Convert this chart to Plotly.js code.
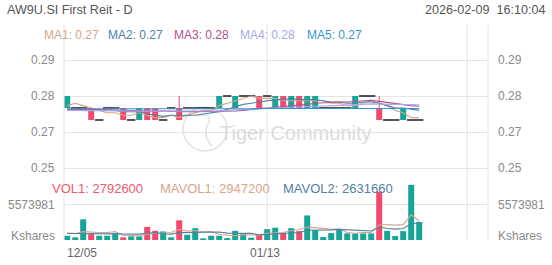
<!DOCTYPE html>
<html>
<head>
<meta charset="utf-8">
<script src="https://cdn.plot.ly/plotly-3.0.1.min.js"></script>
<style>
  html, body { margin: 0; padding: 0; background: #fff; }
  #chart { width: 552px; height: 265px; }
</style>
</head>
<body>
<div id="chart"></div>
<script>
// Daily bars for AW9U.SI, 2025-12-05 .. 2026-02-09
const dates = ['12/05','12/08','12/09','12/10','12/11','12/12','12/15','12/16','12/17','12/18',
  '12/19','12/22','12/23','12/24','12/26','12/29','12/30','12/31','01/02','01/05',
  '01/06','01/07','01/08','01/09','01/12','01/13','01/14','01/15','01/16','01/19',
  '01/20','01/21','01/22','01/23','01/26','01/27','01/28','01/29','01/30','02/02',
  '02/03','02/04','02/05','02/06','02/09'];

const open = [0.275,0.275,0.275,0.275,0.27,0.275,0.275,0.275,0.27,0.27,
  0.275,0.275,0.27,0.275,0.275,0.275,0.275,0.275,0.275,0.275,
  0.28,0.275,0.28,0.28,0.28,0.28,0.275,0.28,0.275,0.28,
  0.275,0.275,0.275,0.275,0.275,0.275,0.275,0.28,0.28,0.275,
  0.27,0.27,0.27,0.27,0.27];
const high = [0.28,0.275,0.275,0.275,0.27,0.275,0.275,0.275,0.27,0.275,
  0.275,0.275,0.27,0.275,0.28,0.275,0.275,0.275,0.275,0.28,
  0.28,0.28,0.28,0.28,0.28,0.28,0.28,0.28,0.28,0.28,
  0.28,0.28,0.275,0.275,0.275,0.275,0.28,0.28,0.28,0.28,
  0.27,0.27,0.275,0.27,0.27];
const low = [0.275,0.275,0.275,0.27,0.27,0.275,0.275,0.27,0.27,0.27,
  0.27,0.27,0.27,0.275,0.27,0.275,0.275,0.275,0.275,0.275,
  0.28,0.275,0.28,0.28,0.275,0.28,0.275,0.275,0.275,0.275,
  0.275,0.275,0.275,0.275,0.275,0.275,0.275,0.28,0.28,0.27,
  0.27,0.27,0.27,0.27,0.27];
const close = [0.28,0.275,0.275,0.27,0.27,0.275,0.275,0.27,0.27,0.275,
  0.27,0.27,0.27,0.275,0.27,0.275,0.275,0.275,0.275,0.28,
  0.28,0.28,0.28,0.28,0.275,0.28,0.28,0.275,0.28,0.275,
  0.28,0.28,0.275,0.275,0.275,0.275,0.28,0.28,0.28,0.27,
  0.27,0.27,0.275,0.27,0.27];

const volume = [660000,410000,3200000,920000,660000,660000,1020000,410000,560000,560000,
  2030000,1420000,1320000,410000,3050000,810000,1830000,250000,660000,660000,
  300000,1420000,920000,360000,810000,1680000,1900000,1100000,1830000,1370000,
  3800000,1530000,460000,1070000,1680000,1030000,1010000,1020000,1020000,7500600,
  1416000,612000,1370000,8545400,2792600];

// price moving averages
const ma1 = [0.2760,0.2770,0.2760,0.2750,0.2740,0.2730,0.2730,0.2720,0.2720,0.2730,
  0.2720,0.2710,0.2710,0.2720,0.2710,0.2720,0.2730,0.2740,0.2740,0.2760,
  0.2770,0.2780,0.2790,0.2800,0.2790,0.2790,0.2790,0.2780,0.2780,0.2780,
  0.2780,0.2780,0.2780,0.2770,0.2770,0.2760,0.2760,0.2770,0.2780,0.2770,
  0.2760,0.2740,0.2730,0.2710,0.2710];
const ma2 = [0.2745,0.2745,0.2745,0.2740,0.2740,0.2740,0.2740,0.2735,0.2735,0.2735,
  0.2725,0.2720,0.2715,0.2720,0.2720,0.2720,0.2720,0.2725,0.2730,0.2735,
  0.2745,0.2755,0.2765,0.2770,0.2775,0.2780,0.2785,0.2785,0.2790,0.2785,
  0.2785,0.2785,0.2780,0.2775,0.2775,0.2770,0.2770,0.2775,0.2775,0.2770,
  0.2760,0.2750,0.2750,0.2745,0.2740];
const ma3 = [0.2745,0.2745,0.2744,0.2743,0.2742,0.2742,0.2741,0.2740,0.2740,0.2739,
  0.2738,0.2737,0.2736,0.2736,0.2735,0.2735,0.2735,0.2735,0.2735,0.2735,
  0.2735,0.27375,0.2740,0.2745,0.27475,0.2750,0.27525,0.2755,0.2760,0.2760,
  0.2765,0.2770,0.27725,0.27725,0.2775,0.2775,0.27775,0.2780,0.27825,0.27775,
  0.27725,0.27675,0.2765,0.2760,0.27575];
const ma4 = [0.2740,0.2740,0.2741,0.2740,0.2739,0.2739,0.2739,0.2738,0.2737,0.2737,
  0.2736,0.2736,0.2735,0.2735,0.2735,0.2735,0.2736,0.2737,0.2737,0.2738,
  0.2740,0.2742,0.2744,0.2746,0.2747,0.2749,0.2750,0.2751,0.2753,0.2754,
  0.2756,0.2758,0.2759,0.2760,0.2761,0.2762,0.2764,0.2765,0.2767,0.2766,
  0.2765,0.2765,0.2764,0.2763,0.2763];
const ma5 = [0.2747,0.2747,0.2747,0.2746,0.2746,0.2746,0.2746,0.2745,0.2745,0.2745,
  0.2745,0.2744,0.2744,0.2744,0.2744,0.2744,0.2744,0.2745,0.2745,0.2745,
  0.2746,0.2746,0.2747,0.2747,0.2748,0.2748,0.2748,0.2749,0.2749,0.2749,
  0.2750,0.2750,0.2750,0.2750,0.2750,0.2750,0.2750,0.2750,0.2750,0.2749,
  0.2749,0.2749,0.2748,0.2748,0.2748];

// volume moving averages
const mavol1 = [1100000,1000000,1300000,1200000,1170000,1170000,1290000,730000,660000,640000,
  920000,1000000,1180000,1150000,1650000,1400000,1480000,1270000,1320000,840000,
  740000,660000,790000,730000,760000,1040000,1130000,1170000,1460000,1580000,
  2000000,1930000,1800000,1650000,1710000,1150000,1050000,1160000,1150000,2320000,
  2390000,2310000,2380000,3890000,2947200];
const mavol2 = [1000000,1000000,1050000,1000000,980000,960000,950000,930000,920000,906000,
  1040000,1140000,960000,910000,1140000,1160000,1240000,1220000,1230000,1240000,
  1070000,1070000,1030000,1030000,800000,890000,900000,980000,1100000,1170000,
  1520000,1530000,1480000,1560000,1640000,1580000,1490000,1480000,1400000,2010000,
  1770000,1680000,1770000,2520000,2631660];

// axis ticks
const priceTicks = [0.295, 0.28, 0.265, 0.25];
const priceTickText = ['0.29', '0.28', '0.27', '0.25'];
const volTick = 5573981;
const volTickText = '5573981';
const volUnit = 'Kshares';
const dateTickIdx = [0, 25];

// ---- styling ----
const UP = '#17a597', DOWN = '#f2496c', FLAT = '#1e1e1e';
const MA_COLORS = ['#d6a689', '#4f80a5', '#b4508c', '#aaaae6', '#3a93cf'];
const GRID = '#e4e4e4', LABEL = '#8a8a8a';
const FONT = '"Liberation Sans", Arial, sans-serif';

// page geometry
const W = 552, H = 265;
const M = { l: 64, r: 64, t: 25, b: 25 };
const PW = W - M.l - M.r, PH = H - M.t - M.b;
const px = v => (v - M.l) / PW;
const py = v => (M.t + PH - v) / PH;
const volFrac = 62 / PH;

const idx = dates.map((_, i) => i);

// candle bodies
const upI = idx.filter(i => close[i] > open[i]);
const dnI = idx.filter(i => close[i] < open[i]);
const flatI = idx.filter(i => close[i] === open[i] && high[i] === low[i]);

const bodyUp = {
  type: 'bar', x: upI, base: upI.map(i => open[i]), y: upI.map(i => close[i] - open[i]),
  width: 0.75, marker: { color: UP, line: { width: 0 } }, xaxis: 'x', yaxis: 'y', hoverinfo: 'skip'
};
const bodyDn = {
  type: 'bar', x: dnI, base: dnI.map(i => close[i]), y: dnI.map(i => open[i] - close[i]),
  width: 0.75, marker: { color: DOWN, line: { width: 0 } }, xaxis: 'x', yaxis: 'y', hoverinfo: 'skip'
};

// wicks
function wickTrace(list, color) {
  const xs = [], ys = [];
  list.forEach(i => {
    const top = Math.max(open[i], close[i]), bot = Math.min(open[i], close[i]);
    if (high[i] > top) { xs.push(i, i, null); ys.push(top, high[i], null); }
    if (low[i] < bot) { xs.push(i, i, null); ys.push(bot, low[i], null); }
  });
  return { type: 'scatter', mode: 'lines', x: xs, y: ys, line: { color, width: 1 },
    xaxis: 'x', yaxis: 'y', hoverinfo: 'skip', connectgaps: false };
}

const flatMarks = {
  type: 'scatter', mode: 'markers', x: flatI, y: flatI.map(i => close[i]),
  marker: { symbol: 'line-ew', size: 6, line: { color: FLAT, width: 1.5 } },
  xaxis: 'x', yaxis: 'y', hoverinfo: 'skip'
};

const maSeries = [ma1, ma2, ma3, ma4, ma5];
const maTraces = maSeries.map((m, j) => ({
  type: 'scatter', mode: 'lines', x: idx, y: m,
  line: { color: MA_COLORS[j], width: 1.1 }, xaxis: 'x', yaxis: 'y', hoverinfo: 'skip'
}));

const volBars = {
  type: 'bar', x: idx, y: volume, width: 0.75,
  marker: { color: idx.map(i => close[i] < open[i] ? DOWN : UP), line: { width: 0 } },
  xaxis: 'x', yaxis: 'y2', hoverinfo: 'skip'
};
const volMa1 = { type: 'scatter', mode: 'lines', x: idx, y: mavol1,
  line: { color: MA_COLORS[0], width: 1.1 }, xaxis: 'x', yaxis: 'y2', hoverinfo: 'skip' };
const volMa2 = { type: 'scatter', mode: 'lines', x: idx, y: mavol2,
  line: { color: MA_COLORS[1], width: 1.1 }, xaxis: 'x', yaxis: 'y2', hoverinfo: 'skip' };

const data = [bodyUp, bodyDn, wickTrace(upI, UP), wickTrace(dnI, DOWN), flatMarks,
  ...maTraces, volBars, volMa1, volMa2];

// annotations
const ann = [];
const txt = (text, x, y, opts) => ann.push(Object.assign({
  text, x, y, xref: 'paper', yref: 'paper', showarrow: false,
  xanchor: 'left', yanchor: 'middle', font: { family: FONT, size: 12, color: LABEL }
}, opts || {}));

txt('AW9U.SI First Reit - D', px(5), py(10), { font: { family: FONT, size: 12.6, color: '#555' } });
txt('2026-02-09\u00a0\u00a016:10:04', px(547), py(10),
  { xanchor: 'right', font: { family: FONT, size: 12.6, color: '#555' } });

const maX = [42, 106, 172, 238, 305];
maSeries.forEach((m, j) => {
  txt('MA' + (j + 1) + ': ' + m[m.length - 1].toFixed(2), px(maX[j]), py(35),
    { font: { family: FONT, size: 12, color: MA_COLORS[j] } });
});

const last = volume.length - 1;
txt('VOL1: ' + volume[last], px(50), py(188), { font: { family: FONT, size: 13, color: '#ee5870' } });
txt('MAVOL1: ' + mavol1[last], px(158), py(188), { font: { family: FONT, size: 13, color: MA_COLORS[0] } });
txt('MAVOL2: ' + mavol2[last], px(281), py(188), { font: { family: FONT, size: 13, color: MA_COLORS[1] } });

// y labels on both sides
priceTicks.forEach((v, j) => {
  ann.push({ text: priceTickText[j], x: px(57), y: v, xref: 'paper', yref: 'y', showarrow: false,
    xanchor: 'right', yanchor: 'middle', font: { family: FONT, size: 12, color: LABEL } });
  ann.push({ text: priceTickText[j], x: px(496), y: v, xref: 'paper', yref: 'y', showarrow: false,
    xanchor: 'left', yanchor: 'middle', font: { family: FONT, size: 12, color: LABEL } });
});
[[px(57), 'right'], [px(496), 'left']].forEach(([x, a]) => {
  ann.push({ text: volTickText, x, y: volTick, xref: 'paper', yref: 'y2', showarrow: false,
    xanchor: a, yanchor: 'middle', yshift: -1, font: { family: FONT, size: 12, color: LABEL } });
  ann.push({ text: volUnit, x, y: 0, xref: 'paper', yref: 'y2', showarrow: false,
    xanchor: a, yanchor: 'middle', yshift: 4, font: { family: FONT, size: 12, color: LABEL } });
});

// date labels
ann.push({ text: dates[dateTickIdx[0]], x: px(65), y: py(253), xref: 'paper', yref: 'paper',
  showarrow: false, xanchor: 'left', yanchor: 'middle', font: { family: FONT, size: 12, color: '#666' } });
ann.push({ text: dates[dateTickIdx[1]], x: dateTickIdx[1], y: py(253), xref: 'x', yref: 'paper',
  showarrow: false, xanchor: 'center', yanchor: 'middle', xshift: -2,
  font: { family: FONT, size: 12, color: '#666' } });

// watermark
ann.push({ text: 'Tiger Community', x: px(296), y: py(133), xref: 'paper', yref: 'paper',
  showarrow: false, xanchor: 'center', yanchor: 'middle',
  font: { family: FONT, size: 20, color: '#dcdcdc' } });

const shapes = [
  // panel frame verticals
  { type: 'line', xref: 'paper', yref: 'paper', x0: 0, x1: 0, y0: 0, y1: 1, line: { color: GRID, width: 1 } },
  { type: 'line', xref: 'paper', yref: 'paper', x0: 1, x1: 1, y0: 0, y1: 1, line: { color: GRID, width: 1 } },
  // date gridlines
  { type: 'line', xref: 'x', yref: 'paper', x0: 25, x1: 25, y0: 0, y1: 1, line: { color: GRID, width: 1 }, layer: 'below' },
  { type: 'line', xref: 'x', yref: 'paper', x0: 50, x1: 50, y0: 0, y1: 1, line: { color: GRID, width: 1 }, layer: 'below' },
  // watermark ring
  { type: 'circle', xref: 'paper', yref: 'paper', x0: px(183), x1: px(227), y0: py(151), y1: py(107),
    line: { color: '#e2e2e2', width: 1.5 }, layer: 'below' },
  { type: 'path', xref: 'paper', yref: 'paper',
    path: `M ${px(196)} ${py(116)} Q ${px(214)} ${py(112)} ${px(208)} ${py(124)} Q ${px(202)} ${py(136)} ${px(212)} ${py(146)}`,
    line: { color: '#e2e2e2', width: 1.5 }, layer: 'below' }
];

const layout = {
  width: W, height: H,
  margin: M,
  paper_bgcolor: '#fff', plot_bgcolor: '#fff',
  showlegend: false, hovermode: false, barmode: 'overlay',
  xaxis: { range: [-0.4, 52.6], showgrid: false, zeroline: false, showticklabels: false,
    ticks: '', showline: false, fixedrange: true },
  yaxis: { domain: [volFrac, 1], range: [0.28 - 82 / 2400, 0.28 + 71 / 2400],
    tickvals: priceTicks, showticklabels: false, ticks: '', showgrid: true, gridcolor: GRID,
    gridwidth: 1, zeroline: false, showline: false },
  yaxis2: { domain: [0, volFrac], range: [0, volTick * 62 / 36],
    tickvals: [0, volTick], showticklabels: false, ticks: '', showgrid: true, gridcolor: GRID,
    gridwidth: 1, zeroline: false, showline: false },
  annotations: ann,
  shapes
};

Plotly.newPlot('chart', data, layout, { staticPlot: true, displayModeBar: false });
</script>
</body>
</html>
